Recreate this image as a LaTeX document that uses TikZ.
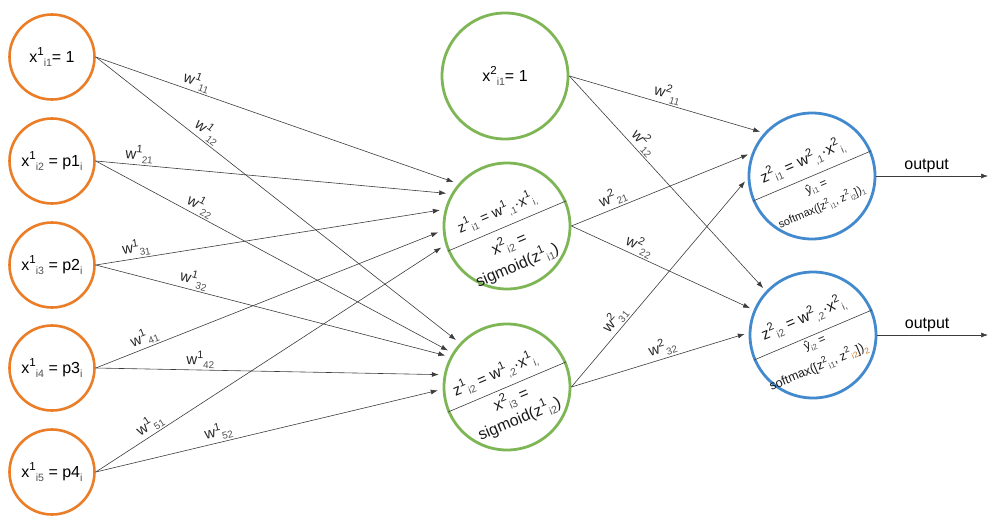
\documentclass[tikz,border=0pt]{standalone}
\usepackage{fontspec}
\setmainfont{Liberation Sans}
\usepackage{graphicx}
\usetikzlibrary{arrows.meta}
\definecolor{orng}{RGB}{234,125,38}
\definecolor{grn}{RGB}{126,182,86}
\definecolor{blu}{RGB}{66,138,205}
\definecolor{edgec}{RGB}{60,60,60}
\definecolor{subg}{RGB}{80,80,80}
\definecolor{subo}{RGB}{196,120,45}
\newcommand\spx[1]{\raisebox{0.42em}{\scalebox{0.72}{#1}}}
\newcommand\sbx[1]{\raisebox{-0.25em}{\scalebox{0.66}{\textcolor{subg}{#1}}}}
\newcommand\sbo[1]{\raisebox{-0.25em}{\scalebox{0.66}{\textcolor{subo}{#1}}}}
\newcommand\fs[1]{\fontsize{#1}{#1}\selectfont}
\begin{document}
\begin{tikzpicture}[x=1pt,y=-1pt,
 inp/.style={circle, draw=orng, line width=2.6pt, minimum size=85pt, inner sep=0pt, font=\fs{16}},
 hid/.style={circle, draw=grn, line width=2.8pt, minimum size=126pt, inner sep=0pt, font=\fs{16}},
 outc/.style={circle, draw=blu, line width=2.8pt, minimum size=126pt, inner sep=0pt},
 wire/.style={draw=edgec, line width=0.6pt, -{Latex[length=7pt,width=5pt]}, shorten >=5pt},
 wlbl/.style={sloped, above, inner sep=1.5pt, font=\fs{15}, text=black!85},
 divl/.style={draw=edgec, line width=0.6pt},
 intxt/.style={inner sep=0pt, text=black!90}]
\useasboundingbox (0,0) rectangle (1000,527);

% input layer
\node[inp] (i1) at (52,57)  {x\spx{1}\sbx{i1}= 1};
\node[inp] (i2) at (52,161) {x\spx{1}\sbx{i2} = p1\sbx{i}};
\node[inp] (i3) at (52,265) {x\spx{1}\sbx{i3} = p2\sbx{i}};
\node[inp] (i4) at (52,368) {x\spx{1}\sbx{i4} = p3\sbx{i}};
\node[inp] (i5) at (52,472) {x\spx{1}\sbx{i5} = p4\sbx{i}};

% hidden layer
\node[hid] (h1) at (505,76)  {x\spx{2}\sbx{i1}= 1};
\node[hid] (h2) at (507,226) {};
\node[hid] (h3) at (507,387) {};

% output layer
\node[outc] (o1) at (812,176) {};
\node[outc] (o2) at (813,335) {};

% dividing lines
\draw[divl] (h2.203) -- (h2.23);
\draw[divl] (h3.203) -- (h3.23);
\draw[divl] (o1.203) -- (o1.23);
\draw[divl] (o2.203) -- (o2.23);

% texts inside hidden 2
\begin{scope}[shift={(h2.center)}, rotate=23, transform shape]
 \node[intxt, font=\fs{14.5}] (h2a) at (-4pt,16pt) {z\spx{1}\sbx{i1} = w\spx{1}\sbx{,1}·x\spx{1}\sbx{i,}};
 \node[intxt, font=\fs{16}] (h2b) at (-5pt,-17pt) {x\spx{2}\sbx{i2} =};
 \node[intxt, font=\fs{16}] (h2c) at (-6pt,-40pt) {sigmoid(z\spx{1}\sbx{i1})};
\end{scope}
% texts inside hidden 3
\begin{scope}[shift={(h3.center)}, rotate=23, transform shape]
 \node[intxt, font=\fs{15.5}] (h3a) at (-6pt,16pt) {z\spx{1}\sbx{i2} = w\spx{1}\sbx{,2}·x\spx{1}\sbx{i,}};
 \node[intxt, font=\fs{16}] (h3b) at (-1pt,-13pt) {x\spx{2}\sbx{i3} =};
 \node[intxt, font=\fs{16}] (h3c) at (-1pt,-34pt) {sigmoid(z\spx{1}\sbx{i2})};
\end{scope}
% texts inside output 1
\begin{scope}[shift={(o1.center)}, rotate=23, transform shape]
 \node[intxt, font=\fs{15.5}] (o1a) at (-3pt,17pt) {z\spx{2}\sbx{i1} = w\spx{2}\sbx{,1}·x\spx{2}\sbx{i,}};
 \node[intxt, font=\fs{12}] (o1b) at (0pt,-12pt) {ŷ\sbx{i1} =};
 \node[intxt, font=\fs{11}] (o1c) at (-3pt,-32pt) {softmax([z\spx{2}\sbx{i1}, z\spx{2}\sbx{i2}])\sbx{1}};
\end{scope}
% texts inside output 2
\begin{scope}[shift={(o2.center)}, rotate=23, transform shape]
 \node[intxt, font=\fs{15.5}] (o2a) at (-2pt,19pt) {z\spx{2}\sbx{i2} = w\spx{2}\sbx{,2}·x\spx{2}\sbx{i,}};
 \node[intxt, font=\fs{12}] (o2b) at (-1.5pt,-9pt) {ŷ\sbx{i2} =};
 \node[intxt, font=\fs{12.5}] (o2c) at (-7pt,-31pt) {softmax([z\spx{2}\sbx{i1}, z\spx{2}\sbo{i2}])\sbo{2}};
\end{scope}

% input -> hidden
\draw[wire] (i1.east) -- node[wlbl, pos=0.27] (l11) {w\spx{1}\sbx{11}} (h2.139);
\draw[wire] (i1.east) -- node[wlbl, pos=0.29] (l12) {w\spx{1}\sbx{12}} (h3.137);
\draw[wire] (i2.east) -- node[wlbl, pos=0.12] (l21) {w\spx{1}\sbx{21}} (h2.150);
\draw[wire] (i2.east) -- node[wlbl, pos=0.28] (l22) {w\spx{1}\sbx{22}} (h3.148);
\draw[wire] (i3.east) -- node[wlbl, pos=0.12] (l31) {w\spx{1}\sbx{31}} (h2.165);
\draw[wire] (i3.east) -- node[wlbl, pos=0.27] (l32) {w\spx{1}\sbx{32}} (h3.152);
\draw[wire] (i4.east) -- node[wlbl, pos=0.15] (l41) {w\spx{1}\sbx{41}} (h2.184);
\draw[wire] (i4.east) -- node[wlbl, pos=0.30] (l42) {w\spx{1}\sbx{42}} (h3.169);
\draw[wire] (i5.east) -- node[wlbl, pos=0.17] (l51) {w\spx{1}\sbx{51}} (h2.197);
\draw[wire] (i5.east) -- node[wlbl, pos=0.36] (l52) {w\spx{1}\sbx{52}} (h3.182);

% hidden -> output
\draw[wire, shorten >=4pt] (h1.east) -- node[wlbl, pos=0.49] (m11) {w\spx{2}\sbx{11}} (o1.138);
\draw[wire, shorten >=4pt] (h1.east) -- node[wlbl, pos=0.34] (m12) {w\spx{2}\sbx{12}} (o2.137);
\draw[wire, shorten >=4pt] (h2.east) -- node[wlbl, pos=0.25] (m21) {w\spx{2}\sbx{21}} (o1.159);
\draw[wire, shorten >=4pt] (h2.east) -- node[wlbl, pos=0.35] (m22) {w\spx{2}\sbx{22}} (o2.157);
\draw[wire, shorten >=4pt] (h3.east) -- node[wlbl, pos=0.29] (m31) {w\spx{2}\sbx{31}} (o1.182);
\draw[wire, shorten >=4pt] (h3.east) -- node[wlbl, pos=0.53] (m32) {w\spx{2}\sbx{32}} (o2.178);

% outputs
\coordinate (out1) at (988,176);
\coordinate (out2) at (988,335);
\draw[wire, shorten >=0pt] (o1.east) -- node[above, pos=0.45, font=\fs{16}, inner sep=3pt] (ol1) {output} (out1);
\draw[wire, shorten >=0pt] (o2.east) -- node[above, pos=0.45, font=\fs{16}, inner sep=3pt] (ol2) {output} (out2);
\end{tikzpicture}
\end{document}
